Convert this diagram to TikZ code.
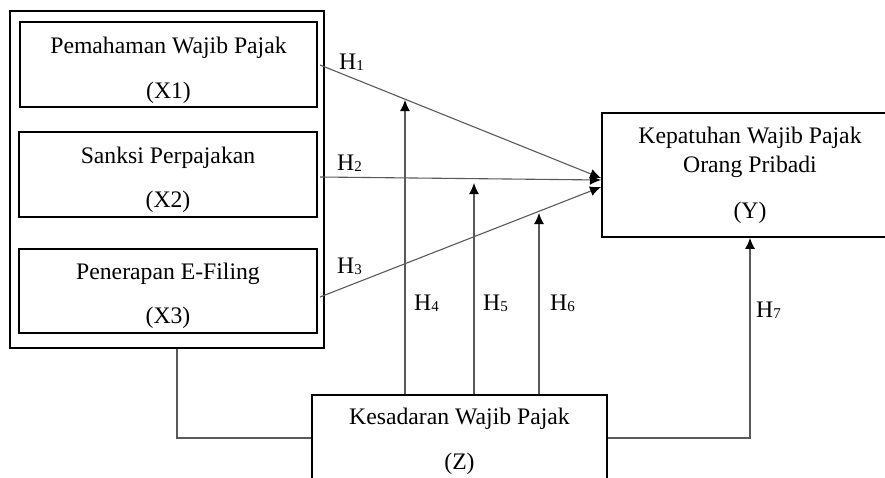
\documentclass[tikz,border=0pt]{standalone}
\usepackage{fontspec}
\setmainfont{Liberation Serif}
\usetikzlibrary{arrows.meta}
\newcommand\Hsub[1]{H\raisebox{-1.5pt}{\fontsize{15}{15}\selectfont #1}}
\tikzset{
  box/.style={draw=black, line width=1.8pt, rectangle, inner sep=0pt},
  txt/.style={anchor=base, inner sep=0pt, font=\fontsize{23.7}{28}\selectfont},
  hl/.style={anchor=base west, inner sep=0pt, font=\fontsize{23.7}{28}\selectfont},
  conn/.style={draw=black!65, line width=1.1pt},
  arr/.style={conn, -{Latex[length=11pt,width=10pt,color=black]}}
}
\begin{document}
\begin{tikzpicture}[x=1pt,y=-1pt]
\useasboundingbox (0,0) rectangle (885,477);
\clip (0,0) rectangle (885,477);
% boxes
\node[box, minimum width=314pt, minimum height=337pt] (outer) at (167,179.5) {};
\node[box, minimum width=297pt, minimum height=85pt] (x1) at (168.5,64.5) {};
\node[box, minimum width=298pt, minimum height=85pt] (x2) at (168,174.5) {};
\node[box, minimum width=298pt, minimum height=84pt] (x3) at (168,291) {};
\node[box, minimum width=296pt, minimum height=124pt] (Y) at (750,175) {};
\node[box, minimum width=295pt, minimum height=86pt] (Z) at (459.5,438) {};
% texts
\node[txt] (t1a) at (168.5,53) {Pemahaman Wajib Pajak};
\node[txt] (t1b) at (168.5,98) {(X1)};
\node[txt] (t2a) at (168,163) {Sanksi Perpajakan};
\node[txt] (t2b) at (168,207) {(X2)};
\node[txt] (t3a) at (168,279) {Penerapan E-Filing};
\node[txt] (t3b) at (168,323) {(X3)};
\node[txt] (tya) at (750,143) {Kepatuhan Wajib Pajak};
\node[txt] (tyb) at (750,172) {Orang Pribadi};
\node[txt] (tyc) at (750,218) {(Y)};
\node[txt] (tza) at (459.5,424) {Kesadaran Wajib Pajak};
\node[txt] (tzb) at (459.5,469) {(Z)};
% connector points
\coordinate (s1) at (320,65);
\coordinate (s2) at (320,177);
\coordinate (s3) at (320,297);
\coordinate (e1) at (601,178);
\coordinate (e2) at (601,180);
\coordinate (e3) at (601,187);
\coordinate (h4t) at (405,100);
\coordinate (h5t) at (474,183);
\coordinate (h6t) at (539,213);
\coordinate (lx) at (177,0);
% main arrows
\draw[arr] (s1) -- (e1);
\draw[arr] (s2) -- (e2);
\draw[arr] (s3) -- (e3);
% moderating arrows
\draw[arr] (Z.north -| h4t) -- (h4t);
\draw[arr] (Z.north -| h5t) -- (h5t);
\draw[arr] (Z.north -| h6t) -- (h6t);
\draw[arr] (Z.east) -| (Y.south);
\draw[conn] (outer.south -| lx) |- (Z.west);
% labels
\node[hl] (H1) at (339,69) {\Hsub{1}};
\node[hl] (H2) at (337,170) {\Hsub{2}};
\node[hl] (H3) at (337,273) {\Hsub{3}};
\node[hl] (H4) at (414,310) {\Hsub{4}};
\node[hl] (H5) at (483,310) {\Hsub{5}};
\node[hl] (H6) at (550,310) {\Hsub{6}};
\node[hl] (H7) at (756,317) {\Hsub{7}};
\end{tikzpicture}
\end{document}
